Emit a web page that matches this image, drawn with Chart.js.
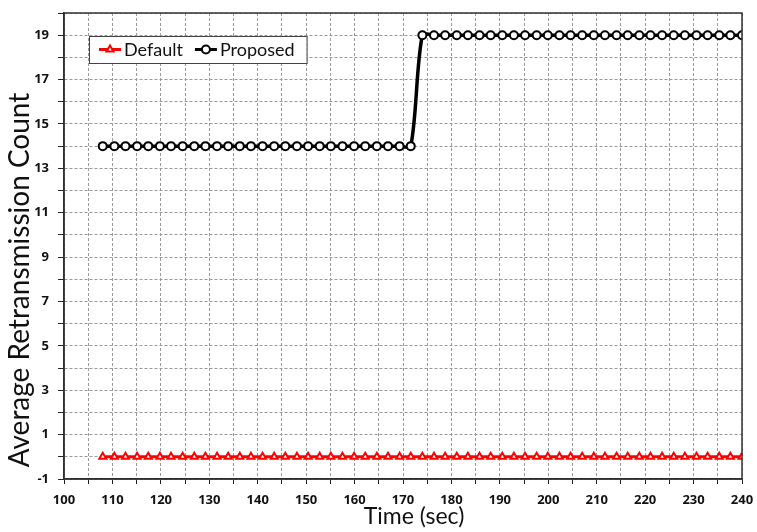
<!DOCTYPE html>
<html>
<head>
<meta charset="utf-8">
<script src="https://cdn.jsdelivr.net/npm/chart.js@4/dist/chart.umd.min.js"></script>
<style>
  html, body { margin: 0; padding: 0; background: #fff; }
  #wrap { width: 757px; height: 532px; }
</style>
</head>
<body>
<div id="wrap"><canvas id="chart" width="757" height="532"></canvas></div>
<script>
// time stamps (sec) of the samples
const timeSec = [108.0, 110.4, 112.7, 115.1, 117.4, 119.8, 122.1, 124.5, 126.9, 129.2,
  131.6, 133.9, 136.3, 138.6, 141.0, 143.4, 145.7, 148.1, 150.4, 152.8,
  155.1, 157.5, 159.9, 162.2, 164.6, 166.9, 169.3, 171.6, 174.0, 176.4,
  178.7, 181.1, 183.4, 185.8, 188.1, 190.5, 192.9, 195.2, 197.6, 199.9,
  202.3, 204.6, 207.0, 209.4, 211.7, 214.1, 216.4, 218.8, 221.1, 223.5,
  225.9, 228.2, 230.6, 232.9, 235.3, 237.6, 240.0];

const defaultCount = [0, 0, 0, 0, 0, 0, 0, 0, 0, 0,
  0, 0, 0, 0, 0, 0, 0, 0, 0, 0,
  0, 0, 0, 0, 0, 0, 0, 0, 0, 0,
  0, 0, 0, 0, 0, 0, 0, 0, 0, 0,
  0, 0, 0, 0, 0, 0, 0, 0, 0, 0,
  0, 0, 0, 0, 0, 0, 0];

const proposedCount = [14, 14, 14, 14, 14, 14, 14, 14, 14, 14,
  14, 14, 14, 14, 14, 14, 14, 14, 14, 14,
  14, 14, 14, 14, 14, 14, 14, 14, 19, 19,
  19, 19, 19, 19, 19, 19, 19, 19, 19, 19,
  19, 19, 19, 19, 19, 19, 19, 19, 19, 19,
  19, 19, 19, 19, 19, 19, 19];

const seriesNames = ["Default", "Proposed"];
const yLabels = [-1, 1, 3, 5, 7, 9, 11, 13, 15, 17, 19];
const xTitle = "Time (sec)";
const yTitle = "Average Retransmission Count";

const FONT = "Lato, 'Open Sans', sans-serif";
const TICK_FONT = "'Open Sans', Lato, sans-serif";

function toPoints(values) {
  return values.map((v, i) => ({ x: timeSec[i], y: v }));
}

// frame round the plot area, axis titles, boxed legend inside the plot
const frameAndLegend = {
  id: "frameAndLegend",
  afterDatasetsDraw(chart) {
    const { ctx, chartArea: a } = chart;
    ctx.save();
    ctx.strokeStyle = "#333";
    ctx.lineWidth = 1.5;
    ctx.strokeRect(a.left, a.top, a.right - a.left, a.bottom - a.top);

    // axis titles
    ctx.fillStyle = "#111";
    ctx.textAlign = "center";
    ctx.textBaseline = "middle";
    ctx.font = "23px " + FONT;
    ctx.fillText(xTitle, 414, 517);
    ctx.save();
    ctx.translate(20, 280);
    ctx.rotate(-Math.PI / 2);
    ctx.font = "28px " + FONT;
    ctx.fillText(yTitle, 0, 0);
    ctx.restore();

    // legend
    ctx.textAlign = "left";
    ctx.font = "18px " + FONT;
    const boxX = a.left + 25, boxY = a.top + 23, boxH = 27;
    let x = boxX + 10;
    const cy = boxY + boxH / 2;
    const items = chart.data.datasets.map(ds => ({ ds, w: ctx.measureText(ds.label).width }));
    let boxW = 10;
    items.forEach(it => { boxW += 22 + 3 + it.w + 12; });
    ctx.fillStyle = "#fff";
    ctx.fillRect(boxX, boxY, boxW, boxH);
    ctx.strokeStyle = "#444";
    ctx.lineWidth = 1;
    ctx.strokeRect(boxX + 0.5, boxY + 0.5, boxW, boxH);
    items.forEach(it => {
      const ds = it.ds;
      ctx.strokeStyle = ds.borderColor;
      ctx.lineWidth = 3;
      ctx.beginPath();
      ctx.moveTo(x, cy);
      ctx.lineTo(x + 22, cy);
      ctx.stroke();
      ctx.fillStyle = ds.pointBackgroundColor;
      ctx.strokeStyle = ds.pointBorderColor;
      ctx.lineWidth = ds.pointBorderWidth;
      Chart.helpers.drawPoint(ctx, { pointStyle: ds.pointStyle, radius: ds.pointRadius, borderWidth: ds.pointBorderWidth, rotation: 0 }, x + 11, cy);
      ctx.fillStyle = "#111";
      ctx.textBaseline = "middle";
      ctx.fillText(ds.label, x + 25, cy + 1);
      x += 22 + 3 + it.w + 12;
    });
    ctx.restore();
  }
};

new Chart(document.getElementById("chart"), {
  type: "line",
  data: {
    datasets: [
      {
        label: seriesNames[0],
        data: toPoints(defaultCount),
        borderColor: "#ff0000",
        borderWidth: 3,
        pointStyle: "triangle",
        pointRadius: 4,
        pointBorderWidth: 2,
        pointBorderColor: "#ff0000",
        pointBackgroundColor: "#fff",
        tension: 0
      },
      {
        label: seriesNames[1],
        data: toPoints(proposedCount),
        borderColor: "#000",
        borderWidth: 3.5,
        pointStyle: "circle",
        pointRadius: 4,
        pointBorderWidth: 2,
        pointBorderColor: "#000",
        pointBackgroundColor: "#fff",
        cubicInterpolationMode: "default",
        tension: 0.3
      }
    ]
  },
  options: {
    responsive: false,
    animation: false,
    layout: { padding: { top: 13, right: 15, left: 0, bottom: 0 } },
    plugins: {
      legend: { display: false },
      tooltip: { enabled: false }
    },
    scales: {
      x: {
        type: "linear",
        min: 100,
        max: 240,
        afterFit(scale) {
          scale.height = 53;
          scale.paddingLeft = 0;
          scale.paddingRight = 0;
        },
        ticks: {
          stepSize: 5,
          autoSkip: false,
          maxRotation: 0,
          padding: 8,
          color: "#111",
          font: { family: TICK_FONT, size: 13, weight: "bold" },
          callback: v => (v % 10 === 0 ? v : "")
        },
        grid: { color: "#999", lineWidth: 1, tickColor: "#222", tickLength: 5 },
        border: { display: true, color: "#222", width: 1.5, dash: [3, 2] }
      },
      y: {
        min: -1,
        max: 20,
        afterFit(scale) {
          scale.width = 64;
          scale.paddingTop = 0;
          scale.paddingBottom = 0;
        },
        ticks: {
          stepSize: 1,
          autoSkip: false,
          padding: 9,
          color: "#111",
          font: { family: TICK_FONT, size: 13, weight: "bold" },
          callback: v => (yLabels.includes(v) ? v : "")
        },
        grid: { color: "#999", lineWidth: 1, tickColor: "#222", tickLength: 6 },
        border: { display: true, color: "#222", width: 1.5, dash: [3, 2] }
      }
    }
  },
  plugins: [frameAndLegend]
});
</script>
</body>
</html>
